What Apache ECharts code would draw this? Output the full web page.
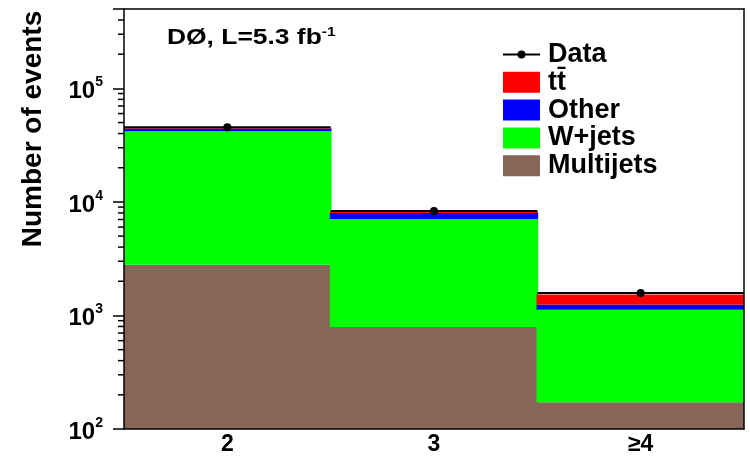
<!DOCTYPE html>
<html><head><meta charset="utf-8">
<script src="https://cdn.jsdelivr.net/npm/echarts@6/dist/echarts.min.js"></script>
<style>html,body{margin:0;padding:0;background:#fff}#c{width:750px;height:457px}</style>
</head><body><div id="c"></div>
<script>
const categories = ['2', '3', '≥4'];
const dataVals = [45500, 8300, 1580];
const ttbarVals = [700, 250, 282];
const otherVals = [2300, 920, 128];
const wjetsVals = [39200, 6290, 950];
const multijetVals = [2800, 790, 172];
const majorTickLabels = [100, 1000, 10000, 100000];
const minorTickValues = [200, 300, 400, 500, 600, 700, 800, 900,
  2000, 3000, 4000, 5000, 6000, 7000, 8000, 9000,
  20000, 30000, 40000, 50000, 60000, 70000, 80000, 90000,
  200000, 300000, 400000];

const FONT = 'Liberation Sans';
const chart = echarts.init(document.getElementById('c'), null, {renderer: 'canvas'});
const dataIcon = 'path://M0,0L0.01,0L0,0.01Z M37,21L36.99,21L37,20.99Z M0,9.5L37,9.5L37,11.5L0,11.5Z M14.5,10.5A4,4,0,1,1,22.5,10.5A4,4,0,1,1,14.5,10.5Z';

function barSeries(name, vals, color) {
  return {
    name: name, type: 'bar', stack: 'mc', data: vals, barWidth: '100.8%',
    barCategoryGap: 0, itemStyle: {color: color}, silent: true, animation: false, z: 2
  };
}

chart.setOption({
  animation: false,
  grid: {left: 124, right: 6, top: 9, bottom: 28, show: false},
  legend: {
    orient: 'vertical', left: 503, top: 41, padding: 0, itemWidth: 37, itemHeight: 21, itemGap: 0.8,
    textStyle: {fontFamily: FONT, fontWeight: 'bold', fontSize: 27, color: '#000', padding: [0, 0, 0, 3]},
    data: [
      {name: 'Data', icon: dataIcon},
      {name: 'tt\u0304', icon: 'rect'},
      {name: 'Other', icon: 'rect'},
      {name: 'W+jets', icon: 'rect'},
      {name: 'Multijets', icon: 'rect'}
    ]
  },
  graphic: [
    {type: 'text', x: 33, y: 129, rotation: Math.PI / 2,
      style: {text: 'Number of events', fontFamily: FONT, fontWeight: 'bold', fontSize: 28, fill: '#000', align: 'center', verticalAlign: 'middle'}},
    {type: 'text', x: 167, y: 38, scaleX: 1.2,
      style: {text: '{a|DØ, L=5.3 fb}{s|-1}', verticalAlign: 'middle',
        rich: {a: {fontFamily: FONT, fontWeight: 'bold', fontSize: 22, fill: '#000'},
               s: {fontFamily: FONT, fontWeight: 'bold', fontSize: 13, fill: '#000', padding: [0, 0, 12, 0]}}}}
  ],
  xAxis: [{
    type: 'category', data: categories, z: 10,
    axisLine: {lineStyle: {color: '#000', width: 1.5}},
    axisTick: {alignWithLabel: true, inside: true, length: 12, lineStyle: {color: '#000', width: 1.5}},
    axisLabel: {fontFamily: FONT, fontWeight: 'bold', fontSize: 23, color: '#000', margin: 4},
    splitLine: {show: false}
  }, {
    type: 'category', data: categories, position: 'top', z: 10,
    axisLine: {lineStyle: {color: '#000', width: 1.5}}, axisTick: {show: false}, axisLabel: {show: false}
  }],
  yAxis: [{
    type: 'log', logBase: 10, min: 100, max: 500000, z: 10,
    axisLine: {show: true, lineStyle: {color: '#000', width: 1.5}},
    axisTick: {show: true, length: 11, lineStyle: {color: '#000', width: 1.5}},
    splitLine: {show: false},
    axisLabel: {
      margin: 21,
      formatter: function (v) {
        for (const t of majorTickLabels) {
          if (Math.abs(v - t) / t < 1e-6) return '{b|10}{s|' + Math.round(Math.log10(t)) + '}';
        }
        return '';
      },
      rich: {
        b: {fontFamily: FONT, fontWeight: 'bold', fontSize: 24, color: '#000', padding: [6, 0, 0, 0]},
        s: {fontFamily: FONT, fontWeight: 'bold', fontSize: 14, color: '#000', padding: [0, 0, 12, 0]}
      }
    }
  }, {
    type: 'log', logBase: 10, min: 100, max: 500000, position: 'right', z: 10,
    axisLine: {show: true, lineStyle: {color: '#000', width: 1.5}},
    axisTick: {show: false}, axisLabel: {show: false}, splitLine: {show: false}
  }],
  series: [
    barSeries('Multijets', multijetVals, '#876657'),
    barSeries('W+jets', wjetsVals, '#00ff00'),
    barSeries('Other', otherVals, '#0000ff'),
    barSeries('tt\u0304', ttbarVals, '#ff0000'),
    {
      name: 'Data', type: 'custom', z: 5, silent: true,
      itemStyle: {color: '#000'},
      data: dataVals.map((v, i) => [i, v]),
      encode: {x: 0, y: 1},
      renderItem: function (params, api) {
        const c = api.coord([api.value(0), api.value(1)]);
        const w = api.size([1, 1000])[0];
        return {type: 'group', children: [
          {type: 'line', shape: {x1: c[0] - w / 2, y1: c[1], x2: c[0] + w / 2, y2: c[1]}, style: {stroke: '#000', lineWidth: 2}},
          {type: 'circle', shape: {cx: c[0], cy: c[1], r: 4}, style: {fill: '#000'}}
        ]};
      }
    },
    {
      type: 'custom', z: 10, silent: true, clip: false,
      data: minorTickValues.map(v => [0, v]),
      encode: {x: 0, y: 1},
      renderItem: function (params, api) {
        const c = api.coord([0, api.value(1)]);
        const w = api.size([1, 1000])[0];
        const x = c[0] - w / 2;
        return {type: 'line', shape: {x1: x - 6, y1: c[1], x2: x, y2: c[1]}, style: {stroke: '#000', lineWidth: 1.5}};
      }
    }
  ]
});
</script></body></html>
